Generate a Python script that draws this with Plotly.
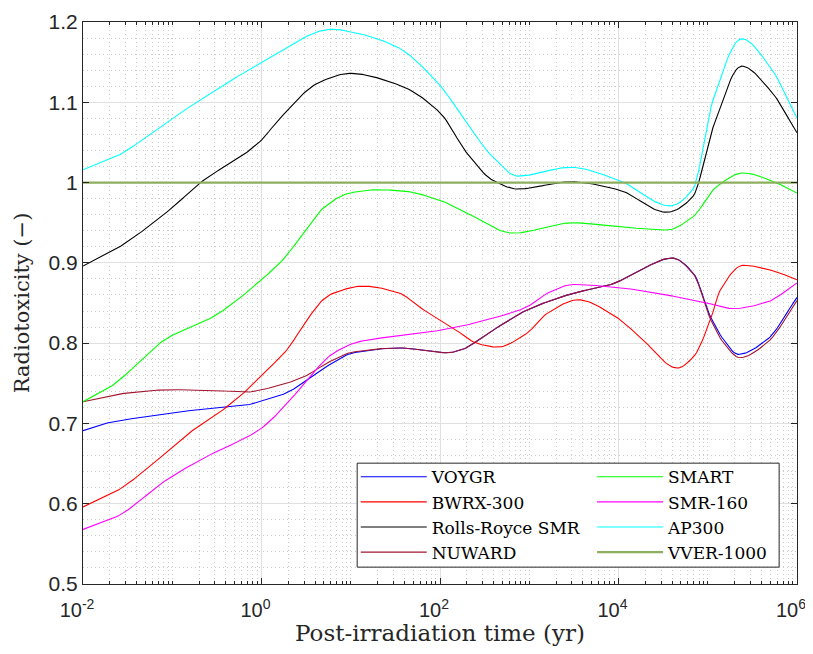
import numpy as np
import plotly.graph_objects as go

# log10 of post-irradiation time (yr) and radiotoxicity ratio
voygr_lt = [-2, -1.75, -1.33, -0.88, -0.39, -0.16, 0, 0.28, 0.51, 0.73, 1.03, 1.55, 2.08, 2.22,
            2.59, 2.97, 3.49, 3.94, 4.24, 4.60, 4.84, 5.03, 5.18, 5.34, 5.66, 6]
voygr_v = [0.691, 0.700, 0.708, 0.715, 0.720, 0.723, 0.728, 0.738, 0.754, 0.771, 0.788, 0.794,
           0.788, 0.791, 0.816, 0.841, 0.862, 0.874, 0.891, 0.906, 0.887, 0.833, 0.804, 0.786,
           0.804, 0.857]

nuward_lt = [-2, -1.57, -0.99, -0.54, -0.16, 0, 0.28, 0.51, 0.73, 1.03, 1.55, 2.08, 2.22,
             2.59, 2.97, 3.49, 3.94, 4.24, 4.60, 4.84, 5.03, 5.18, 5.36, 5.66, 6]
nuward_v = [0.727, 0.737, 0.742, 0.741, 0.739, 0.742, 0.750, 0.760, 0.775, 0.789, 0.794,
            0.788, 0.791, 0.816, 0.841, 0.862, 0.874, 0.891, 0.906, 0.886, 0.830, 0.800, 0.782,
            0.800, 0.853]

bwrx_lt = [-2, -1.62, -1.14, -0.80, -0.54, -0.16, 0, 0.28, 0.51, 0.69, 0.80, 1.14, 1.55, 1.78,
           2.15, 2.41, 2.64, 2.97, 3.20, 3.55, 3.94, 4.24, 4.66, 4.84, 5.03, 5.14, 5.40, 5.70, 6]
bwrx_v = [0.596, 0.616, 0.657, 0.689, 0.708, 0.742, 0.760, 0.791, 0.829, 0.854, 0.862, 0.871,
          0.862, 0.844, 0.819, 0.800, 0.795, 0.812, 0.837, 0.854, 0.835, 0.808, 0.769, 0.783,
          0.829, 0.866, 0.897, 0.891, 0.879]

rr_lt = [-2, -1.62, -1.03, -0.66, -0.16, 0, 0.19, 0.65, 0.99, 1.55, 2.0, 2.30, 2.59, 2.87,
         3.46, 4.0, 4.54, 4.83, 5.06, 5.38, 5.70, 6]
rr_v = [0.896, 0.918, 0.966, 1.002, 1.038, 1.053, 1.078, 1.125, 1.136, 1.121, 1.087, 1.037,
        1.003, 0.992, 1.001, 0.991, 0.963, 0.982, 1.069, 1.145, 1.115, 1.062]

smart_lt = [-2, -1.70, -1.06, -0.54, -0.27, 0, 0.24, 0.47, 0.69, 0.99, 1.29, 1.55, 2.0, 2.30,
            2.82, 3.49, 4.0, 4.54, 4.83, 5.10, 5.40, 5.70, 6]
smart_v = [0.727, 0.745, 0.806, 0.833, 0.854, 0.879, 0.904, 0.937, 0.968, 0.987, 0.991, 0.990,
           0.978, 0.962, 0.937, 0.950, 0.945, 0.941, 0.957, 0.995, 1.012, 1.003, 0.987]

smr160_lt = [-2, -1.62, -1.06, -0.54, -0.16, 0, 0.32, 0.54, 0.80, 1.10, 1.78, 2.0, 2.15, 2.59,
             2.97, 3.20, 3.49, 3.94, 4.54, 4.99, 5.28, 5.66, 6]
smr160_v = [0.568, 0.584, 0.630, 0.663, 0.683, 0.694, 0.729, 0.758, 0.787, 0.802, 0.812, 0.816,
            0.819, 0.831, 0.845, 0.862, 0.873, 0.870, 0.860, 0.850, 0.843, 0.851, 0.875]

ap300_lt = [-2, -1.62, -1.03, 0, 0.80, 0.99, 1.50, 2.0, 2.30, 2.59, 2.87, 3.46, 4.0, 4.58,
            4.83, 5.06, 5.38, 5.70, 6]
ap300_v = [1.016, 1.033, 1.078, 1.149, 1.191, 1.188, 1.170, 1.121, 1.074, 1.032, 1.008, 1.019,
           1.003, 0.971, 0.991, 1.103, 1.179, 1.144, 1.080]

vver_lt = [-2, 6]
vver_v = [1.0, 1.0]

x_tickvals = [1e-2, 1e0, 1e2, 1e4, 1e6]
x_ticktext = ["10<sup>-2</sup>", "10<sup>0</sup>", "10<sup>2</sup>", "10<sup>4</sup>", "10<sup>6</sup>"]
y_tickvals = [0.5, 0.6, 0.7, 0.8, 0.9, 1.0, 1.1, 1.2]
y_ticktext = ["0.5", "0.6", "0.7", "0.8", "0.9", "1", "1.1", "1.2"]


def smooth(lt, v, n=400):
    # monotone cubic (PCHIP) through the read points, in log-time
    x = np.asarray(lt, float)
    y = np.asarray(v, float)
    h = np.diff(x)
    d = np.diff(y) / h
    m = np.zeros_like(y)
    for i in range(1, len(y) - 1):
        if d[i - 1] * d[i] > 0:
            w1 = 2 * h[i] + h[i - 1]
            w2 = h[i] + 2 * h[i - 1]
            m[i] = (w1 + w2) / (w1 / d[i - 1] + w2 / d[i])
    m[0] = d[0]
    m[-1] = d[-1]
    xs = np.linspace(x[0], x[-1], n)
    k = np.clip(np.searchsorted(x, xs) - 1, 0, len(h) - 1)
    t = (xs - x[k]) / h[k]
    h00 = 2 * t**3 - 3 * t**2 + 1
    h10 = t**3 - 2 * t**2 + t
    h01 = -2 * t**3 + 3 * t**2
    h11 = t**3 - t**2
    ys = h00 * y[k] + h10 * h[k] * m[k] + h01 * y[k + 1] + h11 * h[k] * m[k + 1]
    return 10 ** xs, ys


series = [
    ("VOYGR", voygr_lt, voygr_v, "#0000FF", 1.1, "legend"),
    ("BWRX-300", bwrx_lt, bwrx_v, "#FF0000", 1.1, "legend"),
    ("Rolls-Royce SMR", rr_lt, rr_v, "#000000", 1.1, "legend"),
    ("NUWARD", nuward_lt, nuward_v, "#A2142F", 1.1, "legend"),
    ("SMART", smart_lt, smart_v, "#00FF00", 1.1, "legend2"),
    ("SMR-160", smr160_lt, smr160_v, "#FF00FF", 1.1, "legend2"),
    ("AP300", ap300_lt, ap300_v, "#00FFFF", 1.1, "legend2"),
    ("VVER-1000", vver_lt, vver_v, "#8DAE5E", 2.2, "legend2"),
]

fig = go.Figure()
for name, lt, v, color, w, leg in series:
    xs, ys = smooth(lt, v)
    fig.add_trace(go.Scatter(x=xs, y=ys, mode="lines", name=name, legend=leg,
                             line=dict(color=color, width=w)))

minor_x = [k * 10.0**e for e in range(-2, 6) for k in range(1, 10)
           if not (k == 1 and e % 2 == 0)]

serif = "DejaVu Serif"
legend_font = dict(family=serif, size=17, color="#000000")
# page body has an 8px margin, so the figure is shrunk/offset to land on the same pixels
fig.update_layout(
    width=805, height=638,
    margin=dict(l=75, r=16, t=14, b=62, autoexpand=False),
    plot_bgcolor="white", paper_bgcolor="white",
    font=dict(family="Liberation Sans", size=20, color="#262626"),
    showlegend=True,
    legend=dict(x=0.382, y=0.222, xanchor="left", yanchor="top", bgcolor="rgba(0,0,0,0)",
                font=legend_font, itemwidth=66, tracegroupgap=0),
    legend2=dict(x=0.713, y=0.222, xanchor="left", yanchor="top", bgcolor="rgba(0,0,0,0)",
                 font=legend_font, itemwidth=66, tracegroupgap=0),
    shapes=[dict(type="rect", xref="paper", yref="paper", x0=0.384, x1=0.975, y0=0.030, y1=0.215,
                 line=dict(color="#262626", width=1), fillcolor="white", layer="above")],
)
fig.update_xaxes(
    type="log", range=[-2, 6], tickvals=x_tickvals, ticktext=x_ticktext,
    ticks="inside", ticklen=6, tickcolor="#262626", ticklabelstandoff=8,
    ticklabeloverflow="allow", ticklabelshift=-6,
    showline=True, linecolor="#262626", linewidth=1, mirror="ticks",
    showgrid=True, gridcolor="#E0E0E0", gridwidth=1, automargin=False,
    minor=dict(tickmode="array", tickvals=minor_x, ticks="inside", ticklen=3,
               tickcolor="#262626", showgrid=True, gridcolor="#CCCCCC", griddash="1px,3px"),
    title=dict(text="Post-irradiation time (yr)", font=dict(family=serif, size=23, color="#262626"),
               standoff=8),
    tickfont=dict(size=20), zeroline=False,
)
fig.update_yaxes(
    range=[0.5, 1.2], tickvals=y_tickvals, ticktext=y_ticktext,
    ticks="inside", ticklen=6, tickcolor="#262626",
    showline=True, linecolor="#262626", linewidth=1, mirror="ticks",
    showgrid=True, gridcolor="#E0E0E0", gridwidth=1, automargin=False,
    minor=dict(dtick=0.02, tick0=0.5, showgrid=True, gridcolor="#CCCCCC", griddash="1px,3px"),
    title=dict(text="Radiotoxicity (\u2212)", font=dict(family=serif, size=21, color="#262626"),
               standoff=13),
    tickfont=dict(size=21), zeroline=False,
)

fig.write_html("out.html")
